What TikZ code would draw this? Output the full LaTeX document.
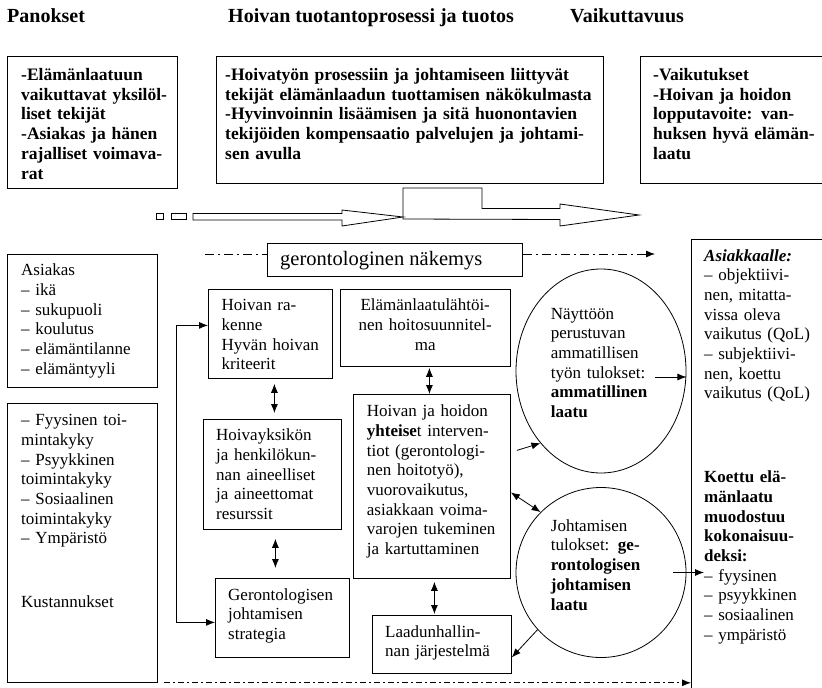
\documentclass[tikz,border=0pt]{standalone}
\usepackage{fontspec}
\setmainfont{Liberation Serif}
\usetikzlibrary{arrows.meta, shapes.geometric}

\begin{document}
\begin{tikzpicture}[x=1pt, y=-1pt,
    box/.style={draw, line width=0.8pt, anchor=north west, inner sep=0pt},
    txt/.style={anchor=base west, inner sep=0pt, align=left, text width=#1,
        font=\fontsize{17}{19.7}\selectfont},
    txt/.default=160pt,
    toptxt/.style={txt=#1, font=\fontsize{17.5}{19.7}\selectfont\bfseries},
    head/.style={anchor=base west, inner sep=0pt, font=\fontsize{20}{24}\selectfont\bfseries},
    arr/.style={-{Latex[length=9pt,width=7pt]}, line width=0.8pt},
    dbl/.style={{Latex[length=9pt,width=7pt]}-{Latex[length=9pt,width=7pt]}, line width=0.8pt},
    dashdotline/.style={line width=0.8pt, dash pattern=on 9pt off 4pt on 2pt off 4pt},
    dashdotfine/.style={line width=0.8pt, dash pattern=on 6pt off 3pt on 2pt off 3pt}]

    \fill[white] (0,0) rectangle (822,688);
    \useasboundingbox (0,0) rectangle (822,688);

    % Headings
    \node[head] (pan) at (7,23) {Panokset};
    \node[head] (pro) at (228,23) {Hoivan tuotantoprosessi ja tuotos};
    \node[head] (vaik) at (570,23) {Vaikuttavuus};

    % Upper boxes
    \node[box, minimum width=170pt, minimum height=132pt] (inb) at (7,56) {};
    \node[toptxt=150pt] (inbt) at (21,80.5) {-Elämänlaatuun\\vaikuttavat yksilöl-\\liset tekijät\\-Asiakas ja hänen\\rajalliset voimava-\\rat};
    \node[box, minimum width=387pt, minimum height=127pt] (prb) at (216,56) {};
    \node[toptxt=375pt] (prbt) at (225,80.5) {-Hoivatyön prosessiin ja johtamiseen liittyvät\\tekijät elämänlaadun tuottamisen näkökulmasta\\-Hyvinvoinnin lisäämisen ja sitä huonontavien\\tekijöiden kompensaatio palvelujen ja johtami-\\sen avulla};
    \node[box, minimum width=184pt, minimum height=127pt] (vab) at (640,56) {};
    \node[toptxt=165pt] (vabt) at (653,80.5) {-Vaikutukset\\-Hoivan ja hoidon\\lopputavoite: van-\\huksen hyvä elämän-\\laatu};

    % Wide arrow
    \draw[line width=0.8pt] (156,213.5) rectangle (163,219.5);
    \draw[line width=0.8pt] (171,213.5) rectangle (186,219.5);
    \draw[line width=0.8pt] (193,213.5) -- (342,213.5) -- (342,210) -- (403,217)
        -- (342,226) -- (342,220) -- (193,220) -- cycle;
    \draw[line width=0.8pt] (403,219) -- (403,188) -- (482,188) -- (482,208.5)
        -- (560,208.5) -- (560,204) -- (639,215) -- (560,226) -- (560,219.5) -- cycle;

    % Gerontological view
    \node[box, minimum width=255pt, minimum height=33.5pt] (gero) at (267,242.5) {};
    \node[anchor=base west, inner sep=0pt, font=\fontsize{20.5}{24}\selectfont] (gerot) at (280,265) {gerontologinen näkemys};
    \coordinate (gl) at (205,254);
    \coordinate (gr) at (655,254);
    \draw[dashdotline] (gl) -- (gl -| gero.west);
    \draw[dashdotline, arr] (gl -| gero.east) -- (gr);

    % Inputs on the left
    \node[box, minimum width=150pt, minimum height=133pt] (asi) at (7,254) {};
    \node[txt] (asit) at (21,275.6) {Asiakas\\– ikä\\– sukupuoli\\– koulutus\\– elämäntilanne\\– elämäntyyli};
    \node[box, minimum width=150pt, minimum height=279pt] (fys) at (7,403) {};
    \node[txt] (fyst) at (21,425.6) {– Fyysinen toi-\\mintakyky\\– Psyykkinen\\toimintakyky\\– Sosiaalinen\\toimintakyky\\– Ympäristö};
    \node[txt] (kus) at (21,607) {Kustannukset};

    % Process boxes
    \node[box, minimum width=124pt, minimum height=89pt] (rak) at (208,289) {};
    \node[txt=115pt] (rakt) at (221.5,310.6) {Hoivan ra-\\kenne\\Hyvän hoivan\\kriteerit};
    \node[box, minimum width=138pt, minimum height=110pt] (res) at (203,419) {};
    \node[txt=125pt] (rest) at (216,440.6) {Hoivayksikön\\ja henkilökun-\\nan aineelliset\\ja aineettomat\\resurssit};
    \node[box, minimum width=134pt, minimum height=79pt] (str) at (215,578) {};
    \node[txt=125pt] (strt) at (228,600) {Gerontologisen\\johtamisen\\strategia};
    \node[box, minimum width=170pt, minimum height=77pt] (suun) at (340,289) {};
    \node[txt=170pt, align=center] (suunt) at (340,310.6) {Elämänlaatulähtöi-\\nen hoitosuunnitel-\\ma};
    \node[box, minimum width=157pt, minimum height=184pt] (int) at (353,394) {};
    \node[txt=145pt] (intt) at (366.7,416.6) {Hoivan ja hoidon\\\textbf{yhteise}t interven-\\tiot (gerontologi-\\nen hoitotyö),\\vuorovaikutus,\\asiakkaan voima-\\varojen tukeminen\\ja kartuttaminen};
    \node[box, minimum width=139pt, minimum height=58pt] (laa) at (372,615) {};
    \node[txt=130pt] (laat) at (385,637.2) {Laadunhallin-\\nan järjestelmä};

    % Outcomes
    \node[draw, ellipse, line width=0.8pt, minimum width=170pt, minimum height=204pt, inner sep=0pt] (amm) at (601,371) {};
    \node[txt=125pt] (ammt) at (550.7,319) {Näyttöön\\perustuvan\\ammatillisen\\työn tulokset:\\\textbf{ammatillinen}\\\textbf{laatu}};
    \node[draw, circle, line width=0.8pt, minimum size=170pt, inner sep=0pt] (joh) at (601,572.5) {};
    \node[txt=125pt] (joht) at (550.7,531.2) {Johtamisen\\tulokset: \textbf{ge-}\\\textbf{rontologisen}\\\textbf{johtamisen}\\\textbf{laatu}};

    % Effectiveness
    \node[box, minimum width=133pt, minimum height=453pt] (vai) at (691,239) {};
    \node[txt=115pt] (vait) at (704,261) {\textbf{\textit{Asiakkaalle:}}\\– objektiivi-\\nen, mitatta-\\vissa oleva\\vaikutus (QoL)\\– subjektiivi-\\nen, koettu\\vaikutus (QoL)};
    \node[txt=115pt] (koet) at (704,482.6) {\textbf{Koettu elä-}\\\textbf{mänlaatu}\\\textbf{muodostuu}\\\textbf{kokonaisuu-}\\\textbf{deksi:}\\– fyysinen\\– psyykkinen\\– sosiaalinen\\– ympäristö};
    \coordinate (fyy) at (704,572.5);

    % Arrows
    \draw[dbl] ([yshift=8.5pt]rak.west) -- ++(-32,0) |- ([yshift=-4.5pt]str.west);
    \draw[dbl] ([xshift=4pt,yshift=-5pt]rak.south) -- ([xshift=2pt,yshift=6pt]res.north);
    \draw[dbl] ([xshift=3pt,yshift=-9pt]res.south) -- ([xshift=-7pt,yshift=10pt]str.north);
    \draw[dbl] ([xshift=4pt,yshift=-1pt]suun.south) -- ([xshift=-2.5pt]int.north);
    \draw[dbl] ([xshift=2.5pt,yshift=-3pt]int.south) -- ([xshift=-7.5pt,yshift=1pt]laa.north);
    \draw[arr] ([xshift=6pt,yshift=36pt]int.east) -- (amm.230);
    \draw[dbl] ([yshift=-6pt]int.east) -- (joh.135);
    \draw[arr] (joh.222) -- ([yshift=-13pt]laa.east);
    \draw[arr] ([xshift=-31pt,yshift=-6pt]amm.east) -- ([yshift=-6pt]amm.east);
    \draw[arr] ([xshift=-13pt]joh.east) -- (fyy);
    \draw[dashdotfine, arr] ([xshift=6pt]fys.south east) -- (fys.south east -| vai.west);

\end{tikzpicture}
\end{document}
